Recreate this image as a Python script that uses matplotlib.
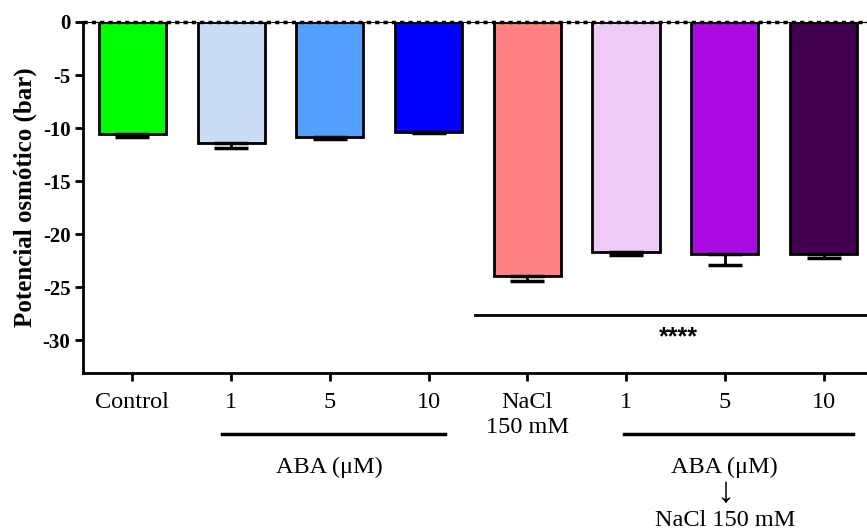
import matplotlib
matplotlib.use('Agg')
import matplotlib.pyplot as plt

plt.rcParams['font.family'] = ['Liberation Serif', 'DejaVu Serif']
plt.rcParams['axes.unicode_minus'] = False

# datos
grupos = ['Control', '1', '5', '10', 'NaCl\n150 mM', '1', '5', '10']
medias = [-10.6, -11.45, -10.8, -10.4, -24.0, -21.7, -21.9, -21.9]
errores = [0.25, 0.45, 0.2, 0.1, 0.45, 0.3, 1.0, 0.4]
colores = ['#00FF00', '#C9DDF7', '#559FFF', '#0000FF',
           '#FF8080', '#EFCCF7', '#AA0BE0', '#420050']

fig = plt.figure(figsize=(8.67, 5.31), dpi=100)
ax = fig.add_axes([0.0957, 0.2976, 0.9043, 0.661])

x = list(range(len(grupos)))
ax.bar(x, medias, width=0.68, color=colores, edgecolor='black', linewidth=2,
       yerr=[errores, [0] * len(errores)],
       error_kw=dict(ecolor='black', elinewidth=2, capsize=12, capthick=2.5),
       zorder=3)

ax.set_xlim(-0.50, 7.44)
ax.set_ylim(-33.1, 0)
ax.set_yticks([0, -5, -10, -15, -20, -25, -30])
ax.set_xticks(x)
ax.set_xticklabels(grupos, fontsize=17.5)

for lab in ax.get_yticklabels():
    lab.set_fontweight('bold')
    lab.set_fontsize(15)

ax.set_ylabel('Potencial osmótico (bar)', fontsize=18, fontweight='bold', labelpad=4)

for s in ['top', 'right']:
    ax.spines[s].set_visible(False)
ax.spines['left'].set_linewidth(2)
ax.spines['bottom'].set_linewidth(2)
ax.tick_params(axis='both', width=2, length=6, direction='out')
ax.tick_params(axis='x', pad=8)
ax.tick_params(axis='y', pad=3)

# línea en y = 0
ax.axhline(0, color='black', lw=0.8, clip_on=False, zorder=4)
ax.axhline(0, color='black', lw=2.5, ls=(0, (1.2, 1.2)), clip_on=False, zorder=4)

# significancia
ax.plot([3.47, 7.6], [-27.6, -27.6], color='black', lw=2, clip_on=True)
ax.text(5.53, -29.7, '****', ha='center', va='center', fontsize=18,
        fontweight='bold', family='Liberation Sans')

# etiquetas de grupos bajo el eje
tr = ax.get_xaxis_transform()
ax.plot([0.907, 3.166], [-0.174, -0.174], color='black', lw=2.5, transform=tr, clip_on=False)
ax.plot([4.98, 7.30], [-0.174, -0.174], color='black', lw=2.5, transform=tr, clip_on=False)
ax.text(2.0, -0.268, 'ABA (μM)', ha='center', va='center', fontsize=17.5, transform=tr)
ax.text(6.0, -0.268, 'ABA (μM)', ha='center', va='center', fontsize=17.5, transform=tr)
ax.text(6.0, -0.342, '↓', ha='center', va='center', fontsize=26, transform=tr)
ax.text(6.0, -0.419, 'NaCl 150 mM', ha='center', va='center', fontsize=17.5, transform=tr)

fig.savefig('out.png', dpi=100)
